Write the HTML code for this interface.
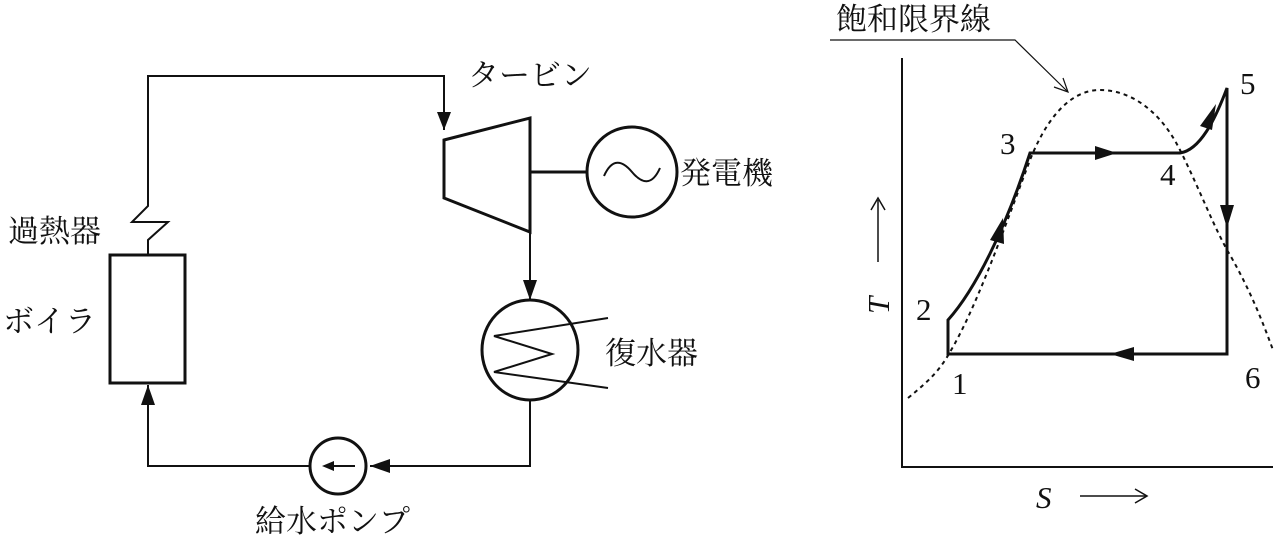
<!DOCTYPE html>
<html><head><meta charset="utf-8"><style>
html,body{margin:0;padding:0;background:#fff;}
svg{display:block;}
text{font-family:"Liberation Serif","Noto Serif CJK SC","Noto Sans CJK JP",serif;fill:#111;}
</style></head><body>
<svg width="1280" height="542" viewBox="0 0 1280 542" xmlns="http://www.w3.org/2000/svg">
<g stroke="#111" fill="none" stroke-width="2">
<polyline points="148,255 148,240 168,222 132,222 148,206 148,76 444,76 444,130"/>
<path d="M437,112 L444,130 L451,112 Z" fill="#111" stroke="none"/>
<polygon points="444,140 530,118 530,232 444,198" stroke-width="3"/>
<line x1="530" y1="172" x2="587" y2="172" stroke-width="3"/>
<circle cx="632" cy="172" r="45" stroke-width="3"/>
<path d="M604,176 C612,158 622,160 632,172 C642,184 652,186 660,168" stroke-width="2"/>
<line x1="530" y1="232" x2="530" y2="300"/>
<path d="M523,280 L530,300 L537,280 Z" fill="#111" stroke="none"/>
<ellipse cx="530" cy="350" rx="48" ry="50" stroke-width="3"/>
<polyline points="608,318 494,336 552,354 494,372 608,388" stroke-width="2"/>
<polyline points="530,400 530,466 370,466"/>
<path d="M390,459 L370,466 L390,473 Z" fill="#111" stroke="none"/>
<circle cx="338" cy="466" r="28" stroke-width="3"/>
<line x1="355" y1="466" x2="325" y2="466"/>
<path d="M334,461 L322,466 L334,471 Z" fill="#111" stroke="none"/>
<polyline points="310,466 148,466 148,385"/>
<path d="M141,405 L148,385 L155,405 Z" fill="#111" stroke="none"/>
<rect x="110" y="255" width="75" height="128" stroke-width="3"/>
<polyline points="902,58 902,467 1273,467"/>
<polyline points="830,40 1015,40 1068,92" stroke-width="1.2"/>
<polyline points="1054,87 1068,92 1063,78" stroke-width="1.2"/>
<path d="M908,398 C930,380 940,370 950,352 C975,310 1000,240 1030,160 C1050,110 1075,90 1100,90 C1130,90 1160,110 1180,150 C1200,190 1215,230 1230,255 C1250,290 1262,320 1273,350" stroke-dasharray="4,4" stroke-width="2"/>
<path d="M948,354 L948,320 C975,290 1005,230 1030,153 L1180,153 C1200,150 1215,120 1227,88 L1227,354 Z" stroke-width="3"/>
<path d="M1095,146 L1117,153 L1095,160 Z" fill="#111" stroke="none"/>
<path d="M1134,347 L1110,354 L1134,361 Z" fill="#111" stroke="none"/>
<path d="M1220,205 L1227,228 L1234,205 Z" fill="#111" stroke="none"/>
<path d="M990,240 L1003,218 L1004,244 Z" fill="#111" stroke="none"/>
<path d="M1200,126 L1216,104 L1212,130 Z" fill="#111" stroke="none"/>
<line x1="878" y1="262" x2="878" y2="200" stroke-width="1.5"/>
<polyline points="871,210 878,198 885,210" stroke-width="1.5"/>
<line x1="1080" y1="496" x2="1146" y2="496" stroke-width="1.5"/>
<polyline points="1135,489 1147,496 1135,503" stroke-width="1.5"/>
</g>
<g font-size="31">
<text x="468" y="86">タービン</text>
<text x="680" y="184">発電機</text>
<text x="605" y="364">復水器</text>
<text x="8" y="242">過熱器</text>
<text x="3" y="332">ボイラ</text>
<text x="255" y="532">給水ポンプ</text>
<text x="836" y="30">飽和限界線</text>
</g>
<g font-size="31">
<text x="1000" y="154">3</text>
<text x="1160" y="185">4</text>
<text x="1240" y="94">5</text>
<text x="916" y="320">2</text>
<text x="952" y="394">1</text>
<text x="1245" y="388">6</text>
<text x="1036" y="508" font-style="italic">S</text>
<text x="0" y="0" font-style="italic" transform="translate(889,314) rotate(-90)">T</text>
</g>
</svg>
</body></html>
